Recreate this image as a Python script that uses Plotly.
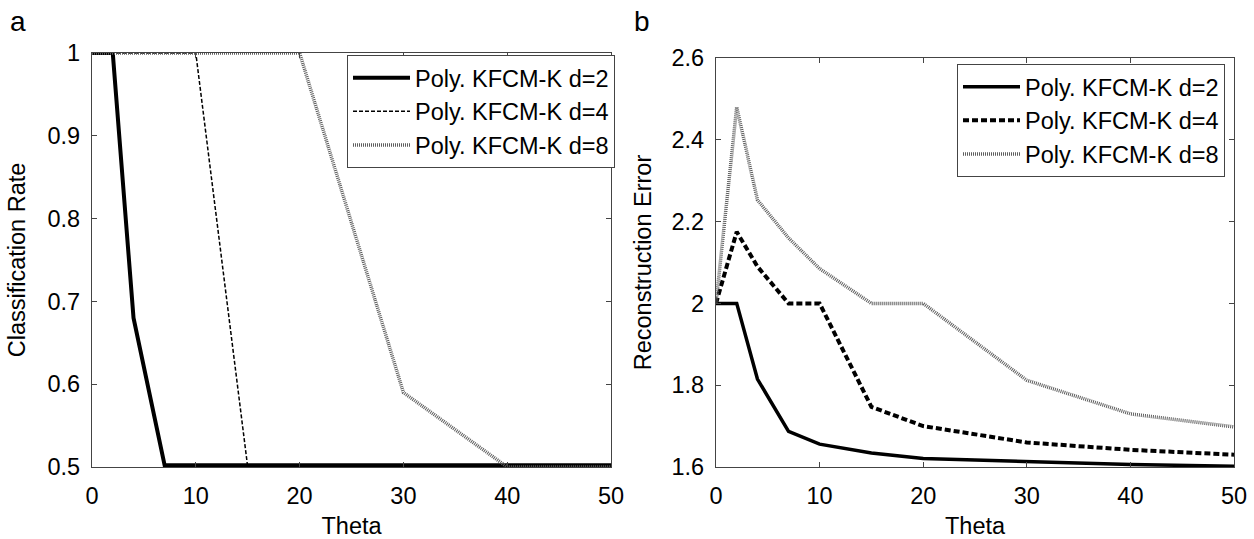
import plotly.graph_objects as go

theta = [0, 2, 4, 7, 10, 15, 20, 30, 40, 50]

cls_d2 = [1.0, 1.0, 0.68, 0.502, 0.502, 0.502, 0.502, 0.502, 0.502, 0.502]
cls_d4 = [1.0, 1.0, 1.0, 1.0, 1.0, 0.5, 0.5, 0.5, 0.5, 0.5]
cls_d8 = [1.0, 1.0, 1.0, 1.0, 1.0, 1.0, 1.0, 0.59, 0.5, 0.5]

rec_d2 = [2.0, 2.0, 1.815, 1.687, 1.656, 1.634, 1.621, 1.613, 1.606, 1.602]
rec_d4 = [2.0, 2.175, 2.09, 2.0, 2.0, 1.747, 1.70, 1.66, 1.642, 1.63]
rec_d8 = [2.0, 2.48, 2.253, 2.16, 2.085, 2.0, 2.0, 1.812, 1.73, 1.698]

names = ["Poly. KFCM-K d=2", "Poly. KFCM-K d=4", "Poly. KFCM-K d=8"]

x_ticks = [0, 10, 20, 30, 40, 50]
cls_ticks = [0.5, 0.6, 0.7, 0.8, 0.9, 1.0]
cls_labels = ["0.5", "0.6", "0.7", "0.8", "0.9", "1"]
rec_ticks = [1.6, 1.8, 2.0, 2.2, 2.4, 2.6]
rec_labels = ["1.6", "1.8", "2", "2.2", "2.4", "2.6"]

FONT = "Liberation Sans, Arial, Helvetica, sans-serif"
FS = 23.5
W, H = 1254, 539
ML, MR, MT, MB = 92, 20, 53, 72
PW = W - ML - MR
PH = H - MT - MB

fig = go.Figure()

# Panel a
fig.add_trace(go.Scatter(x=theta, y=cls_d2, mode="lines", name=names[0],
                         line=dict(color="black", width=4), xaxis="x", yaxis="y", legend="legend"))
fig.add_trace(go.Scatter(x=theta, y=cls_d4, mode="lines", name=names[1],
                         line=dict(color="black", width=1.5, dash="4px,2px"), xaxis="x", yaxis="y", legend="legend"))
fig.add_trace(go.Scatter(x=theta, y=cls_d8, mode="lines", name=names[2],
                         line=dict(color="#5e5e5e", width=3.5, dash="1px,1px"), xaxis="x", yaxis="y", legend="legend"))

# Panel b
fig.add_trace(go.Scatter(x=theta, y=rec_d2, mode="lines", name=names[0],
                         line=dict(color="black", width=3.5), xaxis="x2", yaxis="y2", legend="legend2"))
fig.add_trace(go.Scatter(x=theta, y=rec_d4, mode="lines", name=names[1],
                         line=dict(color="black", width=4, dash="6px,3px"), xaxis="x2", yaxis="y2", legend="legend2"))
fig.add_trace(go.Scatter(x=theta, y=rec_d8, mode="lines", name=names[2],
                         line=dict(color="#5e5e5e", width=3.5, dash="1px,1px"), xaxis="x2", yaxis="y2", legend="legend2"))

axis_common = dict(
    showline=True, linecolor="#444444", linewidth=1.3, mirror="ticks",
    ticks="inside", ticklen=5, tickcolor="#444444", tickwidth=1,
    showgrid=False, zeroline=False, automargin=False,
    tickfont=dict(family=FONT, size=FS, color="black"),
    title_font=dict(family=FONT, size=FS, color="black"),
)

def dx(p):
    return (p - ML) / PW

def dy(p):
    return (H - MB - p) / PH

fig.update_layout(
    width=W, height=H,
    margin=dict(l=ML, r=MR, t=MT, b=MB, autoexpand=False),
    paper_bgcolor="white", plot_bgcolor="white",
    font=dict(family=FONT, size=FS, color="black"),
    xaxis=dict(domain=[dx(92), dx(611)], range=[0, 50], tickvals=x_ticks,
               anchor="y", ticklabelstandoff=8,
               title=dict(text="Theta", standoff=10), **axis_common),
    yaxis=dict(domain=[dy(467), dy(53)], range=[0.5, 1.0], tickvals=cls_ticks,
               ticktext=cls_labels, anchor="x", ticklabelstandoff=6,
               title=dict(text="Classification Rate", standoff=15), **axis_common),
    xaxis2=dict(domain=[dx(716), dx(1234)], range=[0, 50], tickvals=x_ticks,
                anchor="y2", ticklabelstandoff=8,
                title=dict(text="Theta", standoff=10), **axis_common),
    yaxis2=dict(domain=[dy(467), dy(58)], range=[1.6, 2.6], tickvals=rec_ticks,
                ticktext=rec_labels, anchor="x2", ticklabelstandoff=6,
                title=dict(text="Reconstruction Error", standoff=13), **axis_common),
    legend=dict(x=dx(615), y=dy(55), xref="paper", yref="paper",
                xanchor="right", yanchor="top",
                bgcolor="white", bordercolor="#444444", borderwidth=1,
                font=dict(family=FONT, size=FS, color="black"),
                itemwidth=57, tracegroupgap=0),
    legend2=dict(x=dx(1225), y=dy(64), xref="paper", yref="paper",
                 xanchor="right", yanchor="top",
                 bgcolor="white", bordercolor="#444444", borderwidth=1,
                 font=dict(family=FONT, size=FS, color="black"),
                 itemwidth=57, tracegroupgap=0),
    showlegend=True,
    annotations=[
        dict(text="a", x=dx(8), y=dy(4), xref="paper", yref="paper",
             xanchor="left", yanchor="top", showarrow=False,
             font=dict(family=FONT, size=28, color="black")),
        dict(text="b", x=dx(632), y=dy(4), xref="paper", yref="paper",
             xanchor="left", yanchor="top", showarrow=False,
             font=dict(family=FONT, size=28, color="black")),
    ],
)

fig.write_html("out.html", config={"displayModeBar": False},
               post_script="document.body.style.margin='0px';")
